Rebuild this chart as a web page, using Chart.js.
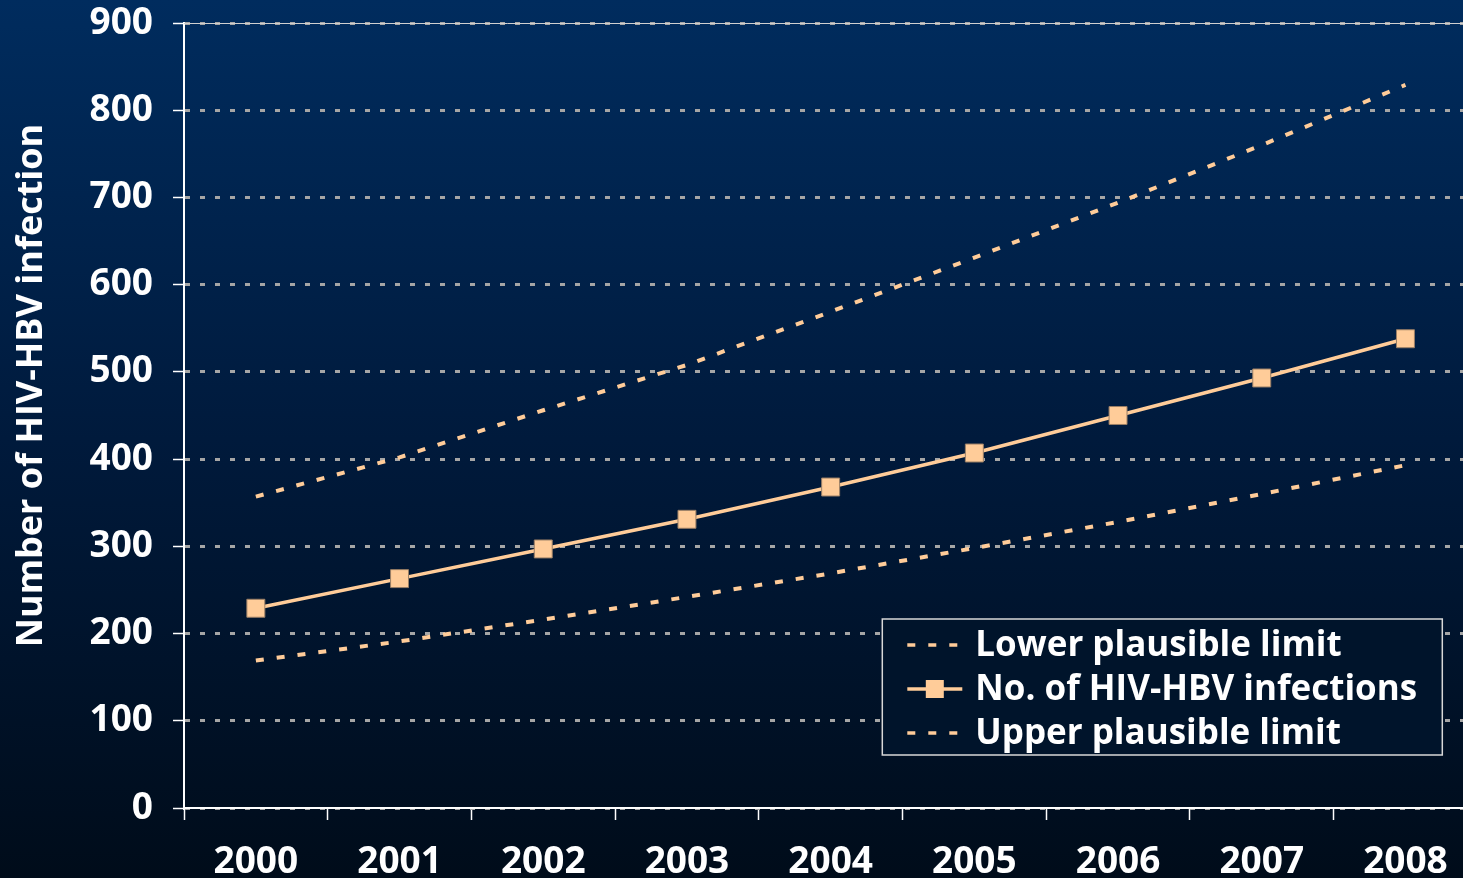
<!DOCTYPE html>
<html>
<head>
<meta charset="utf-8">
<script src="https://cdn.jsdelivr.net/npm/chart.js@4.4.1/dist/chart.umd.min.js"></script>
<style>
  html { margin: 0; padding: 0; overflow: hidden; width: 1463px; height: 878px; }
  body {
    margin: 0; padding: 0;
    width: 1491px; height: 878px;
    background: linear-gradient(to bottom, #002c5e 0%, #001a3c 50%, #000c1a 100%);
  }
  #chart { display: block; width: 1491px; height: 878px; }
</style>
</head>
<body>
<canvas id="chart" width="1491" height="878"></canvas>
<script>
// data
const years = ["2000", "2001", "2002", "2003", "2004", "2005", "2006", "2007", "2008"];
const lowerLimit = [169, 191, 216, 242, 269, 298, 328, 360, 393];
const infections = [229, 263, 297, 331, 368, 407, 450, 493, 538];
const upperLimit = [357, 402, 456, 508, 569, 631, 694, 760, 829];
const yTicks = [0, 100, 200, 300, 400, 500, 600, 700, 800, 900];

const FONT = "'Open Sans', 'Noto Sans', sans-serif";
const PEACH = "#ffcc99";

// legend drawn inside the plot area, bottom right
const boxLegend = {
  id: "boxLegend",
  afterDraw(chart) {
    const ctx = chart.ctx;
    const area = chart.chartArea;
    const right = area.right - 35;
    const bottom = area.bottom - 53;
    const width = 560, height = 136;
    const left = right - width, top = bottom - height;
    ctx.save();
    ctx.fillStyle = "#00142b";
    ctx.fillRect(left, top, width, height);
    ctx.strokeStyle = "#d8d8d8";
    ctx.lineWidth = 1.5;
    ctx.strokeRect(left, top, width, height);

    ctx.font = "bold 35px " + FONT;
    ctx.textBaseline = "middle";
    chart.data.datasets.forEach((ds, i) => {
      const y = top + 26 + i * 44;
      const x0 = left + 25, x1 = left + 80;
      ctx.strokeStyle = ds.borderColor;
      ctx.lineWidth = 3.5;
      ctx.setLineDash(ds.borderDash || []);
      ctx.beginPath();
      ctx.moveTo(x0, y);
      ctx.lineTo(x1, y);
      ctx.stroke();
      ctx.setLineDash([]);
      if (ds.pointRadius) {
        ctx.fillStyle = ds.pointBackgroundColor;
        ctx.fillRect((x0 + x1) / 2 - 9, y - 9, 18, 18);
      }
      ctx.fillStyle = "#ffffff";
      ctx.fillText(ds.label, left + 93, y + 1);
    });

    // top edge of the plot area
    ctx.strokeStyle = "#d0d0d0";
    ctx.lineWidth = 1;
    ctx.beginPath();
    ctx.moveTo(area.left, area.top + 0.5);
    ctx.lineTo(area.right, area.top + 0.5);
    ctx.stroke();

    // rotated y axis title
    ctx.font = "bold 36px " + FONT;
    ctx.translate(32, (area.top + area.bottom) / 2 - 30);
    ctx.rotate(-Math.PI / 2);
    ctx.textAlign = "center";
    ctx.fillStyle = "#ffffff";
    ctx.fillText("Number of HIV-HBV infection", 0, 0);
    ctx.restore();
  }
};

new Chart(document.getElementById("chart"), {
  type: "line",
  data: {
    labels: years,
    datasets: [
      {
        label: "Lower plausible limit",
        data: lowerLimit,
        borderColor: PEACH,
        borderWidth: 4,
        borderDash: [8, 13],
        pointRadius: 0,
        fill: false,
        tension: 0
      },
      {
        label: "No. of HIV-HBV infections",
        data: infections,
        borderColor: PEACH,
        borderWidth: 3.5,
        pointStyle: "rect",
        pointRadius: 12.7,
        pointBackgroundColor: PEACH,
        pointBorderColor: "#9a7f66",
        pointBorderWidth: 1,
        fill: false,
        tension: 0
      },
      {
        label: "Upper plausible limit",
        data: upperLimit,
        borderColor: PEACH,
        borderWidth: 4,
        borderDash: [8, 13],
        pointRadius: 0,
        fill: false,
        tension: 0
      }
    ]
  },
  options: {
    responsive: false,
    animation: false,
    events: [],
    layout: { padding: { top: 23, left: 0, right: 1, bottom: 0 } },
    plugins: {
      legend: { display: false },
      tooltip: { enabled: false }
    },
    scales: {
      x: {
        type: "category",
        offset: true,
        afterFit: (s) => { s.height = 70; s.paddingLeft = 0; s.paddingRight = 0; },
        grid: {
          offset: true,
          drawOnChartArea: false,
          drawTicks: true,
          tickLength: 12,
          tickColor: "#ffffff",
          tickWidth: 1.5
        },
        border: { color: "#ffffff", width: 2 },
        ticks: {
          color: "#ffffff",
          padding: 20,
          maxRotation: 0,
          font: { family: FONT, size: 37, weight: "bold" }
        }
      },
      y: {
        min: yTicks[0],
        max: yTicks[yTicks.length - 1],
        afterFit: (s) => { s.width = 184; s.paddingTop = 0; s.paddingBottom = 0; },
        afterBuildTicks: (s) => { s.ticks = yTicks.map(v => ({ value: v })); },
        grid: {
          color: "#a6a6a6",
          lineWidth: 3,
          drawTicks: true,
          tickLength: 11,
          tickColor: "#ffffff",
          tickWidth: 1.5,
          tickBorderDash: []
        },
        border: { color: "#ffffff", width: 2, dash: [5, 10] },
        ticks: {
          color: "#ffffff",
          padding: 20,
          font: { family: FONT, size: 37, weight: "bold" }
        }
      }
    }
  },
  plugins: [boxLegend]
});
</script>
</body>
</html>
